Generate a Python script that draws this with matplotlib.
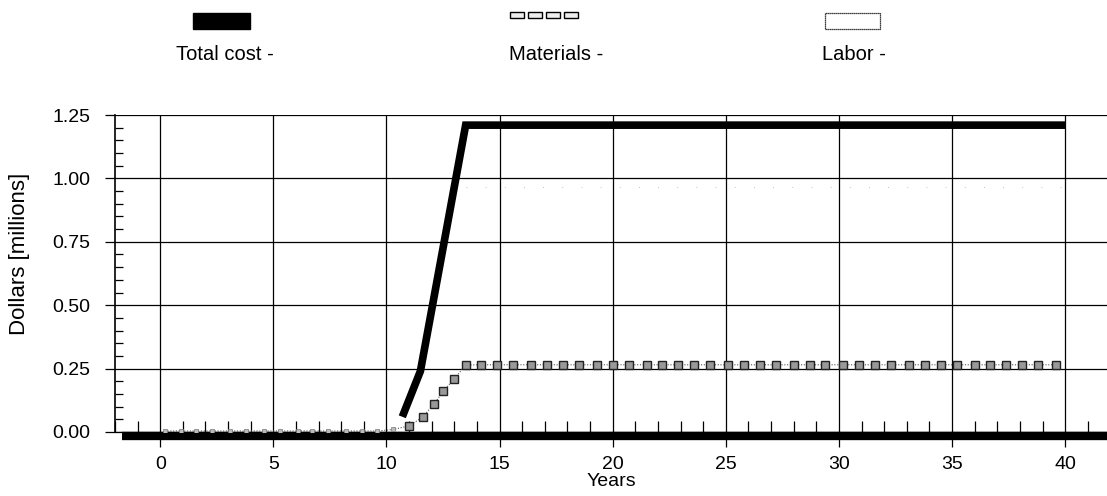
import matplotlib.pyplot as plt
from matplotlib.patches import Rectangle
from matplotlib.ticker import MultipleLocator

plt.rcParams["font.family"] = ["Liberation Sans", "DejaVu Sans"]

# data (years, millions of dollars)
total_years = [10.7, 11.5, 13.5, 40.0]
total_cost = [0.06, 0.24, 1.21, 1.21]

materials_years = [0.2, 0.9, 1.6, 2.3, 3.1, 3.8, 4.6, 5.3, 6.1, 6.7, 7.4, 8.2, 8.9, 9.6, 10.3,
                   11.0, 11.6, 12.1, 12.5, 13.0, 13.5, 14.2, 14.9, 15.6, 16.4, 17.1, 17.8,
                   18.5, 19.3, 20.0, 20.7, 21.5, 22.2, 22.9, 23.6, 24.3, 25.1, 25.8, 26.5,
                   27.2, 28.0, 28.7, 29.4, 30.2, 30.9, 31.6, 32.3, 33.1, 33.8, 34.5, 35.2,
                   36.0, 36.7, 37.4, 38.1, 38.8, 39.6]
materials = [0.004, 0.004, 0.004, 0.004, 0.004, 0.004, 0.004, 0.004, 0.004, 0.004, 0.004,
             0.004, 0.004, 0.004, 0.010,
             0.024, 0.059, 0.110, 0.160, 0.210, 0.264, 0.265, 0.265, 0.265, 0.265, 0.265,
             0.265, 0.265, 0.265, 0.265, 0.265, 0.265, 0.265, 0.265, 0.265, 0.265, 0.265,
             0.265, 0.265, 0.265, 0.265, 0.265, 0.265, 0.265, 0.265, 0.265, 0.265, 0.265,
             0.265, 0.265, 0.265, 0.265, 0.265, 0.265, 0.265, 0.265, 0.265]

labor_years = [13.5, 40.0]
labor = [0.965, 0.965]

x_ticks = [0, 5, 10, 15, 20, 25, 30, 35, 40]
y_ticks = [0.00, 0.25, 0.50, 0.75, 1.00, 1.25]

W, H = 1107, 496
fig = plt.figure(figsize=(W / 100, H / 100), dpi=100)
ax = fig.add_axes([115 / W, 64 / H, 992 / W, 317 / H])
ax.set_xlim(-2, 41.85)
ax.set_ylim(0, 1.25)

# grid + axes cosmetics
ax.grid(True, which="major", color="black", lw=0.9)
ax.set_axisbelow(True)
for side in ("top", "right"):
    ax.spines[side].set_visible(False)
ax.spines["left"].set_linewidth(1.2)
ax.spines["bottom"].set_linewidth(0.9)

ax.set_xticks(x_ticks)
ax.set_yticks(y_ticks)
ax.set_yticklabels([f"{v:.2f}" for v in y_ticks])
ax.xaxis.set_minor_locator(MultipleLocator(1))
ax.yaxis.set_minor_locator(MultipleLocator(0.05))
ax.tick_params(axis="x", which="major", direction="out", length=11, width=0.9, pad=6,
               labelsize=14)
ax.tick_params(axis="x", which="minor", direction="in", length=8, width=0.9)
ax.tick_params(axis="y", which="major", direction="out", length=7.5, width=0.9, pad=10,
               labelsize=14)
ax.tick_params(axis="y", which="minor", direction="in", length=6, width=0.9)

ax.set_xlabel("Years", fontsize=14)
ax.xaxis.set_label_coords(0.5, (432 - 473) / 317)
ax.set_ylabel("Dollars [millions]", fontsize=16)
ax.yaxis.set_label_coords((30 - 115) / 992, (432 - 254) / 317)

# thick baseline bar under the zero line
ax.plot([-1.7, 42], [-0.015, -0.015], color="black", lw=6, solid_capstyle="butt",
        clip_on=False, zorder=4)

# labor (faint, almost lost in the print)
ax.plot(labor_years, labor, color="#aaaaaa", lw=0.6, ls=(0, (1, 22)), zorder=3)

# materials
ax.plot(materials_years, materials, color="#555555", lw=0.8, ls=(0, (1, 1.5)), zorder=3)
small = [v < 0.02 for v in materials]
ax.plot([x for x, s in zip(materials_years, small) if s],
        [v for v, s in zip(materials, small) if s],
        ls="none", marker="s", ms=3, mfc="#bbbbbb", mec="#777777", mew=0.5, zorder=4)
ax.plot([x for x, s in zip(materials_years, small) if not s],
        [v for v, s in zip(materials, small) if not s],
        ls="none", marker="s", ms=5.5, mfc="#999999", mec="#222222", mew=1.0, zorder=4)

# total cost
ax.plot(total_years, total_cost, color="black", lw=5.5, solid_capstyle="butt",
        solid_joinstyle="miter", zorder=5)

# legend drawn at top of figure
fig.patches.append(Rectangle((193 / W, 1 - 29 / H), 57 / W, 16 / H,
                             transform=fig.transFigure, facecolor="black",
                             edgecolor="black"))
fig.text(225 / W, 1 - 54 / H, "Total cost -", ha="center", va="center", fontsize=14.5)

for i in range(4):
    fig.patches.append(Rectangle(((510 + i * 18) / W, 1 - 18 / H), 14 / W, 6 / H,
                                 transform=fig.transFigure,
                                 facecolor="#eeeeee", edgecolor="black", lw=1.0))
fig.text(556 / W, 1 - 54 / H, "Materials -", ha="center", va="center", fontsize=14.5)

fig.patches.append(Rectangle((825 / W, 1 - 29 / H), 55 / W, 16 / H,
                             transform=fig.transFigure, facecolor="white",
                             edgecolor="black", lw=0.9, ls=(0, (1, 0.6))))
fig.text(854 / W, 1 - 54 / H, "Labor -", ha="center", va="center", fontsize=14.5)

fig.savefig("out.png", dpi=100)
